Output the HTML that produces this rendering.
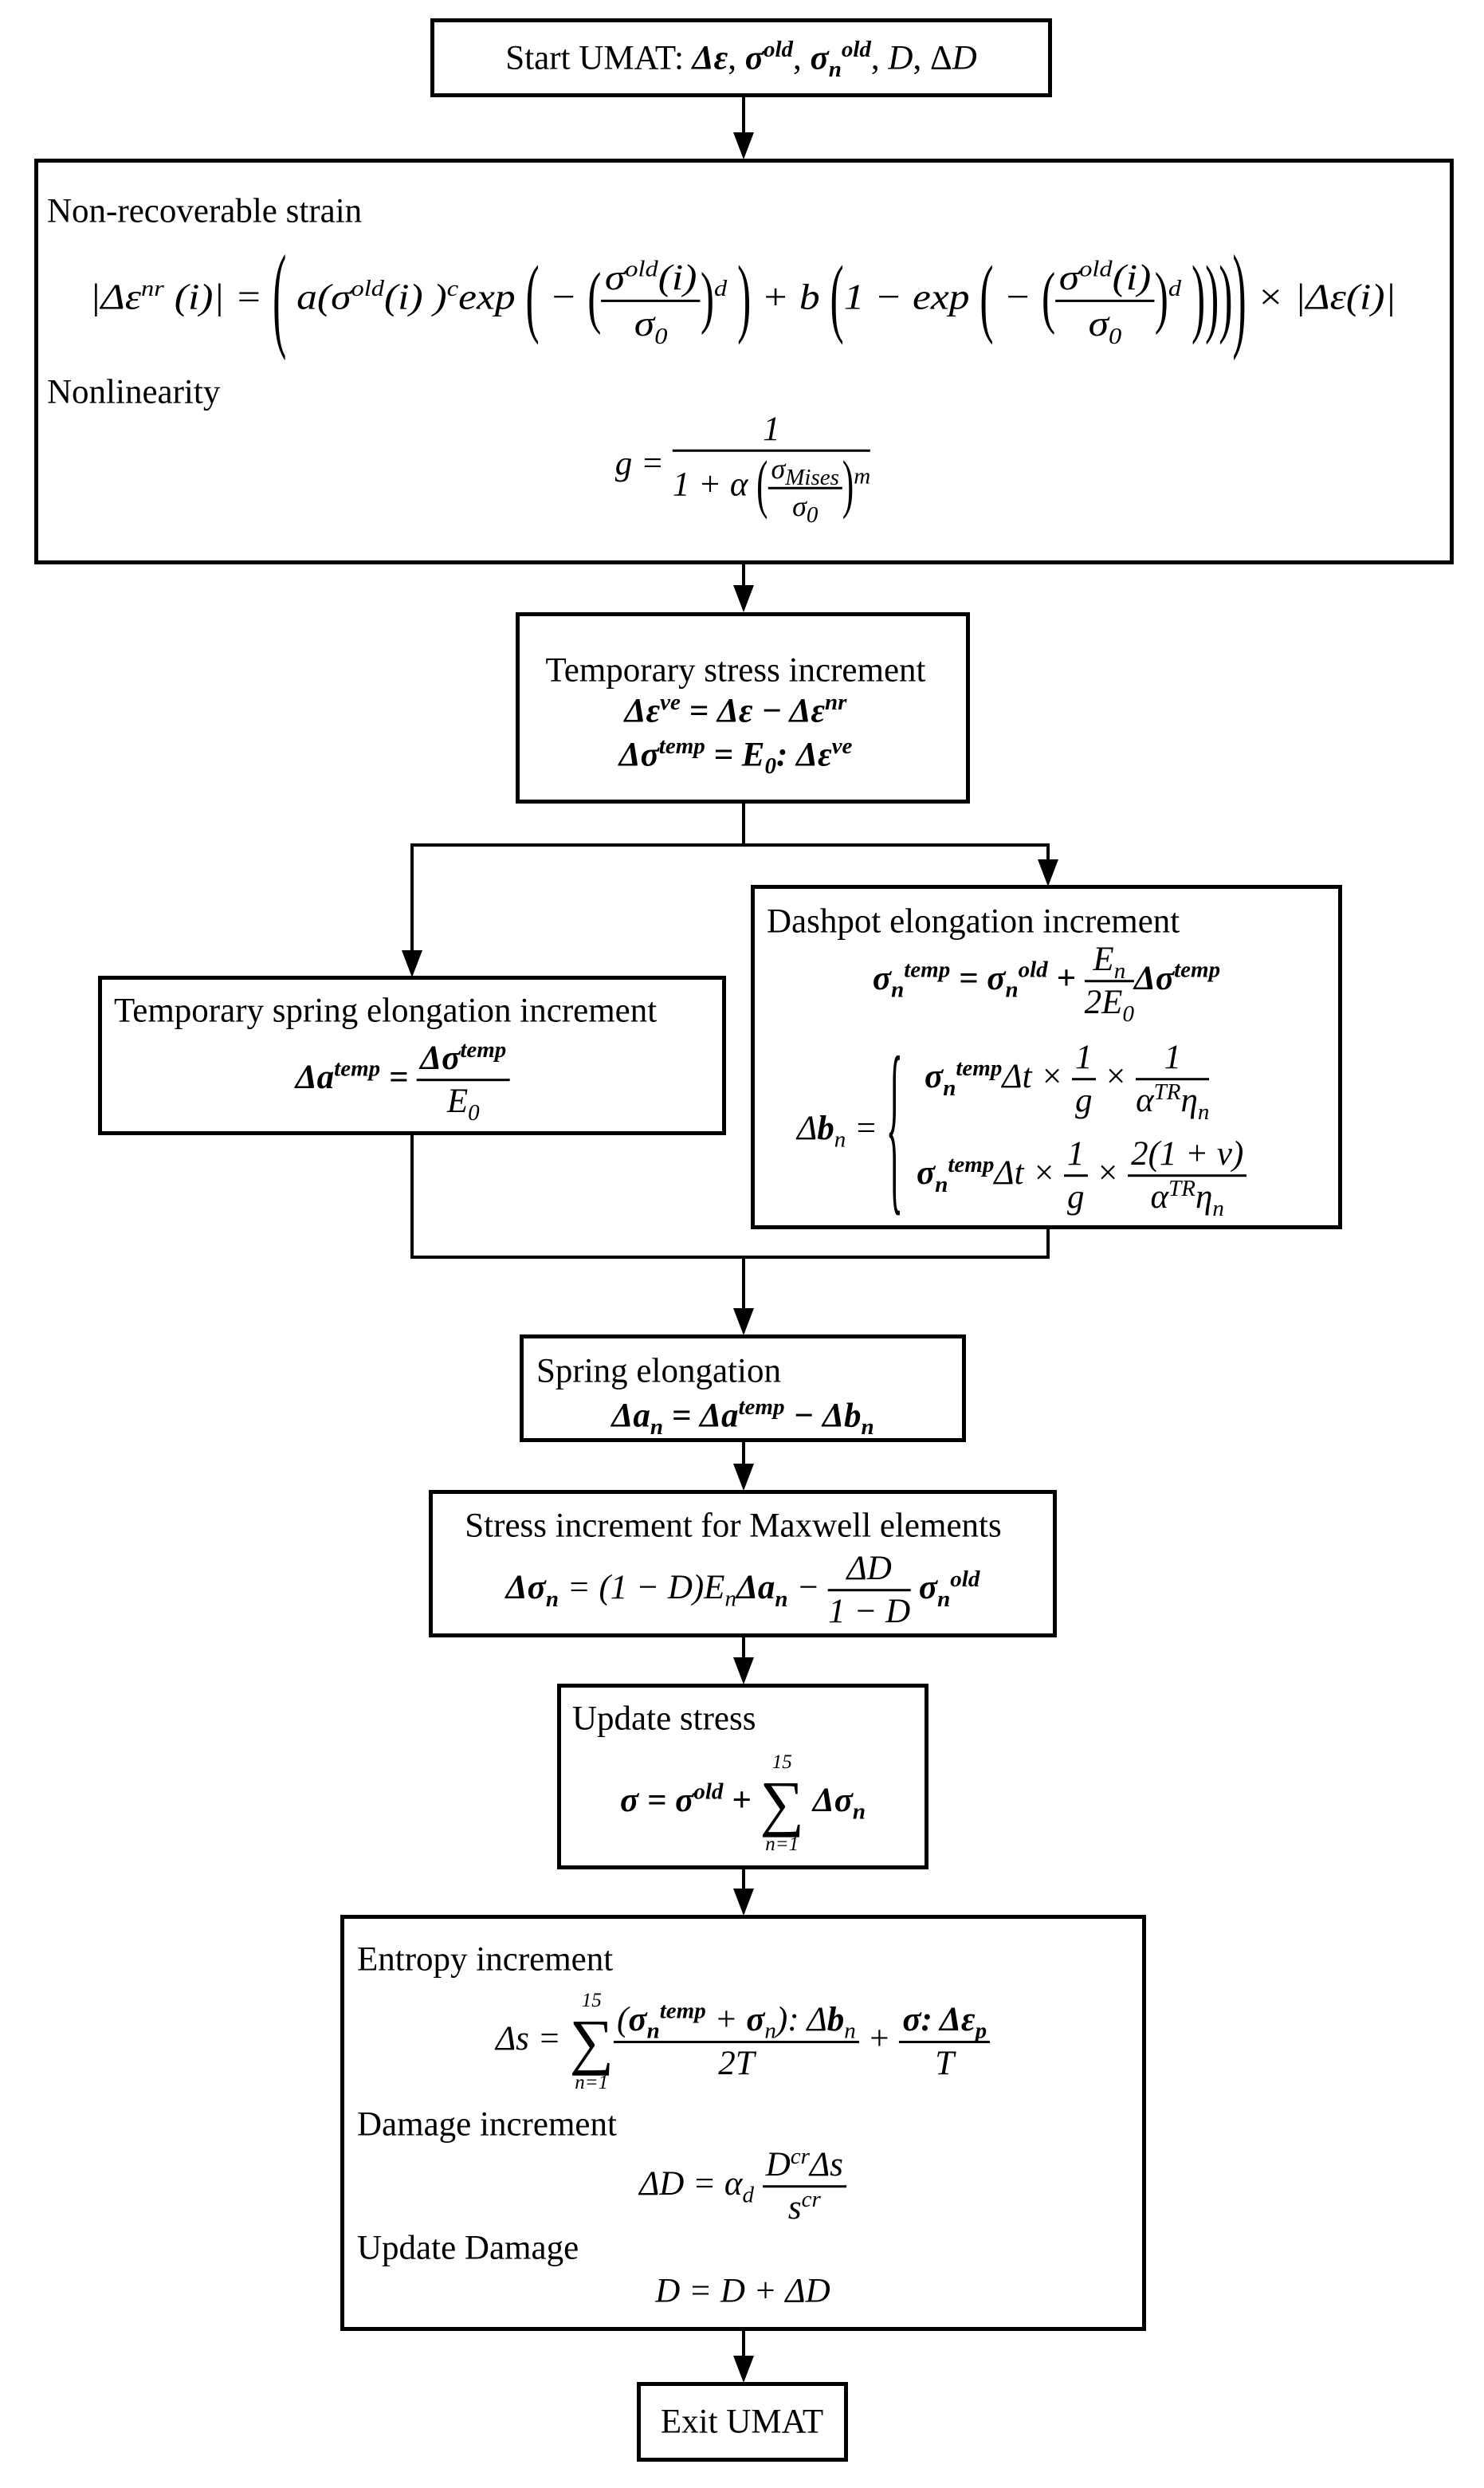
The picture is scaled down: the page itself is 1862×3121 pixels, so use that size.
<!DOCTYPE html>
<html><head><meta charset="utf-8">
<style>
html,body{margin:0;padding:0;background:#fff;}
body{width:1862px;height:3121px;position:relative;overflow:hidden;font-family:"Liberation Serif",serif;color:#000;}
.box{position:absolute;border:5px solid #000;box-sizing:border-box;background:#fff;}
.ln{position:absolute;background:#000;}
.ar{position:absolute;width:0;height:0;border-left:13px solid transparent;border-right:13px solid transparent;border-top:34px solid #000;}
.t{position:absolute;font-size:43px;white-space:nowrap;transform:translateY(-50%);line-height:1;}
.c{position:absolute;white-space:nowrap;transform:translate(-50%,-50%);font-size:43px;line-height:1;}
.m{font-style:italic;}
.b{font-weight:bold;font-style:italic;}
.fr{display:inline-flex;flex-direction:column;vertical-align:middle;text-align:center;line-height:1.1;}
.fr>span:first-child{border-bottom:3px solid #000;padding:0 4px 2px;}
.fr>span:last-child{padding-top:2px;}
sup,sub{font-size:29px;line-height:0;}
.big{display:inline-block;transform:scaleY(3.2);font-style:normal;font-weight:100;}
.mid{display:inline-block;transform:scaleY(1.9);font-style:normal;}
.sum{display:inline-flex;flex-direction:column;align-items:center;vertical-align:middle;line-height:1;}
.sum .s{font-size:78px;font-style:normal;line-height:1;}
.sum small{font-size:25px;}
</style></head><body>

<div class="box" style="left:540px;top:23px;width:780px;height:99px;"></div>
<div class="box" style="left:43px;top:199px;width:1781px;height:509px;"></div>
<div class="box" style="left:647px;top:768px;width:570px;height:240px;"></div>
<div class="box" style="left:123px;top:1224px;width:788px;height:200px;"></div>
<div class="box" style="left:942px;top:1110px;width:742px;height:432px;"></div>
<div class="box" style="left:652px;top:1674px;width:560px;height:135px;"></div>
<div class="box" style="left:538px;top:1869px;width:788px;height:185px;"></div>
<div class="box" style="left:699px;top:2112px;width:466px;height:233px;"></div>
<div class="box" style="left:427px;top:2402px;width:1011px;height:522px;"></div>
<div class="box" style="left:799px;top:2988px;width:265px;height:100px;"></div>

<div class="ln" style="left:931px;top:122px;width:4px;height:50px;"></div><div class="ar" style="left:920px;top:166px;"></div>
<div class="ln" style="left:931px;top:708px;width:4px;height:30px;"></div><div class="ar" style="left:920px;top:734px;"></div>
<div class="ln" style="left:931px;top:1008px;width:4px;height:54px;"></div>
<div class="ln" style="left:515px;top:1058px;width:802px;height:4px;"></div>
<div class="ln" style="left:515px;top:1058px;width:4px;height:140px;"></div><div class="ar" style="left:504px;top:1192px;"></div>
<div class="ln" style="left:1313px;top:1058px;width:4px;height:26px;"></div><div class="ar" style="left:1302px;top:1078px;"></div>
<div class="ln" style="left:515px;top:1424px;width:4px;height:155px;"></div>
<div class="ln" style="left:1313px;top:1542px;width:4px;height:37px;"></div>
<div class="ln" style="left:515px;top:1575px;width:802px;height:4px;"></div>
<div class="ln" style="left:931px;top:1575px;width:4px;height:70px;"></div><div class="ar" style="left:920px;top:1641px;"></div>
<div class="ln" style="left:931px;top:1809px;width:4px;height:32px;"></div><div class="ar" style="left:920px;top:1836px;"></div>
<div class="ln" style="left:931px;top:2054px;width:4px;height:30px;"></div><div class="ar" style="left:920px;top:2079px;"></div>
<div class="ln" style="left:931px;top:2345px;width:4px;height:28px;"></div><div class="ar" style="left:920px;top:2369px;"></div>
<div class="ln" style="left:931px;top:2924px;width:4px;height:36px;"></div><div class="ar" style="left:920px;top:2955px;"></div>

<div class="c" style="left:930px;top:73px;">Start UMAT: <b class="b">Δε</b>, <b class="b">σ<sup>old</sup></b>, <b class="b">σ<sub>n</sub><sup>old</sup></b>, <span class="m">D</span>, Δ<span class="m">D</span></div>

<div class="t" style="left:59px;top:265px;">Non-recoverable strain</div>
<div class="c m" style="left:932px;top:377px;font-size:46px;transform:translate(-50%,-50%) scaleX(1.12);">|Δε<sup>nr</sup> (i)| = <span class="big">(</span> a(σ<sup>old</sup>(i) )<sup>c</sup>exp <span class="big" style="transform:scaleY(2.4)">(</span> − <span class="mid">(</span><span class="fr"><span>σ<sup>old</sup>(i)</span><span>σ<sub>0</sub></span></span><span class="mid">)</span><sup>d</sup> <span class="big" style="transform:scaleY(2.4)">)</span> + b <span class="big" style="transform:scaleY(2.4)">(</span>1 − exp <span class="big" style="transform:scaleY(2.4)">(</span> − <span class="mid">(</span><span class="fr"><span>σ<sup>old</sup>(i)</span><span>σ<sub>0</sub></span></span><span class="mid">)</span><sup>d</sup> <span class="big" style="transform:scaleY(2.4)">)))</span><span class="big">)</span> × |Δε(i)|</div>
<div class="t" style="left:59px;top:492px;">Nonlinearity</div>
<div class="c m" style="left:932px;top:585px;">g = <span class="fr"><span>1</span><span>1 + α <span class="mid">(</span><span class="fr" style="font-size:36px"><span>σ<sub>Mises</sub></span><span>σ<sub>0</sub></span></span><span class="mid">)</span><sup>m</sup></span></span></div>

<div class="c" style="left:923px;top:841px;">Temporary stress increment</div>
<div class="c b" style="left:923px;top:892px;">Δε<sup>ve</sup> = Δε − Δε<sup>nr</sup></div>
<div class="c b" style="left:923px;top:947px;">Δσ<sup>temp</sup> = E<sub>0</sub>: Δε<sup>ve</sup></div>

<div class="t" style="left:143px;top:1268px;">Temporary spring elongation increment</div>
<div class="c b" style="left:505px;top:1355px;">Δa<sup>temp</sup> = <span class="fr"><span>Δσ<sup>temp</sup></span><span style="font-weight:normal">E<sub>0</sub></span></span></div>

<div class="t" style="left:962px;top:1156px;">Dashpot elongation increment</div>
<div class="c b" style="left:1313px;top:1231px;">σ<sub>n</sub><sup>temp</sup> = σ<sub>n</sub><sup>old</sup> + <span class="fr" style="font-weight:normal"><span>E<sub>n</sub></span><span>2E<sub>0</sub></span></span>Δσ<sup>temp</sup></div>
<div class="t m" style="left:1000px;top:1415px;">Δ<b>b</b><sub>n</sub> = <span class="big" style="transform:scaleY(5.5);font-size:44px">{</span></div>
<div class="t m" style="left:1160px;top:1354px;"><b>σ<sub>n</sub><sup>temp</sup></b>Δt × <span class="fr"><span>1</span><span>g</span></span> × <span class="fr"><span>1</span><span>α<sup>TR</sup>η<sub>n</sub></span></span></div>
<div class="t m" style="left:1150px;top:1475px;"><b>σ<sub>n</sub><sup>temp</sup></b>Δt × <span class="fr"><span>1</span><span>g</span></span> × <span class="fr"><span>2(1 + ν)</span><span>α<sup>TR</sup>η<sub>n</sub></span></span></div>

<div class="t" style="left:673px;top:1720px;">Spring elongation</div>
<div class="c b" style="left:932px;top:1776px;">Δa<sub>n</sub> = Δa<sup>temp</sup> − Δb<sub>n</sub></div>

<div class="c" style="left:920px;top:1914px;">Stress increment for Maxwell elements</div>
<div class="c m" style="left:932px;top:1995px;"><b>Δσ<sub>n</sub></b> = (1 − D)E<sub>n</sub><b>Δa<sub>n</sub></b> − <span class="fr"><span>ΔD</span><span>1 − D</span></span> <b>σ<sub>n</sub><sup>old</sup></b></div>

<div class="t" style="left:718px;top:2156px;">Update stress</div>
<div class="c b" style="left:932px;top:2262px;">σ = σ<sup>old</sup> + <span class="sum" style="font-weight:normal"><small>15</small><span class="s">∑</span><small class="m">n=1</small></span> Δσ<sub>n</sub></div>

<div class="t" style="left:448px;top:2458px;">Entropy increment</div>
<div class="c m" style="left:932px;top:2561px;">Δs = <span class="sum"><small>15</small><span class="s">∑</span><small>n=1</small></span><span class="fr"><span>(<b>σ<sub>n</sub><sup>temp</sup></b> + <b>σ</b><sub>n</sub>): Δ<b>b</b><sub>n</sub></span><span>2T</span></span> + <span class="fr"><span><b>σ: Δε<sub>p</sub></b></span><span>T</span></span></div>
<div class="t" style="left:448px;top:2665px;">Damage increment</div>
<div class="c m" style="left:932px;top:2743px;">ΔD = α<sub>d</sub> <span class="fr"><span>D<sup>cr</sup>Δs</span><span>s<sup>cr</sup></span></span></div>
<div class="t" style="left:448px;top:2820px;">Update Damage</div>
<div class="c m" style="left:932px;top:2874px;">D = D + ΔD</div>

<div class="c" style="left:931px;top:3038px;">Exit UMAT</div>
</body></html>
